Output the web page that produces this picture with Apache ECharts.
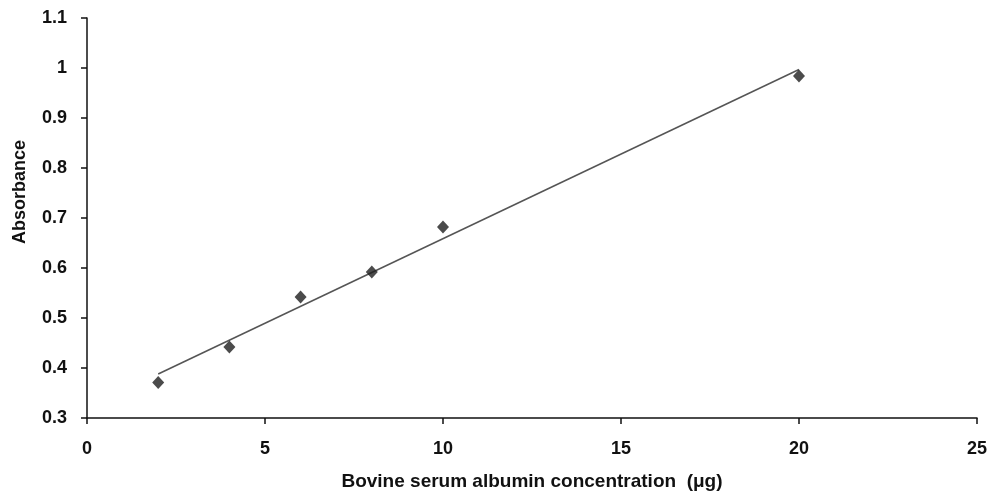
<!DOCTYPE html>
<html>
<head>
<meta charset="utf-8">
<script src="https://cdn.jsdelivr.net/npm/echarts@6/dist/echarts.min.js"></script>
<style>
html,body{margin:0;padding:0;background:#fff;overflow:hidden;}
#c{width:990px;height:496px;}
</style>
</head>
<body>
<div id="c"></div>
<script>
const concentration = [2, 4, 6, 8, 10, 20];
const absorbance = [0.371, 0.442, 0.542, 0.592, 0.682, 0.984];
const trendX = [2, 20];
const trendY = [0.388, 0.997];
const xTitle = 'Bovine serum albumin concentration  (μg)';
const yTitle = 'Absorbance';

const chart = echarts.init(document.getElementById('c'));
const font = 'Liberation Sans, Arial, sans-serif';
chart.setOption({
  animation: false,
  backgroundColor: '#fff',
  grid: {left: 87, width: 890, top: 18, height: 405, containLabel: false},
  xAxis: {
    type: 'value', min: 0, max: 25, interval: 5,
    name: xTitle, nameLocation: 'middle', nameGap: 54,
    nameTextStyle: {fontFamily: font, fontWeight: 'bold', fontSize: 19, color: '#111'},
    axisLine: {show: true, lineStyle: {color: '#111', width: 1.5}},
    axisTick: {show: true, inside: false, length: 6, lineStyle: {color: '#111', width: 1.5}},
    axisLabel: {margin: 22, fontFamily: font, fontWeight: 'bold', fontSize: 18, color: '#111'},
    splitLine: {show: false}
  },
  yAxis: {
    type: 'value', min: 0.3, max: 1.1, interval: 0.1,
    name: yTitle, nameLocation: 'middle', nameGap: 58, nameRotate: 90,
    nameTextStyle: {fontFamily: font, fontWeight: 'bold', fontSize: 18, color: '#111', padding: [0, 0, 0, 52]},
    axisLine: {show: true, lineStyle: {color: '#111', width: 1.5}},
    axisTick: {show: true, inside: false, length: 6, lineStyle: {color: '#111', width: 1.5}},
    axisLabel: {margin: 20, fontFamily: font, fontWeight: 'bold', fontSize: 18, color: '#111',
      formatter: v => String(Math.round(v * 10) / 10)},
    splitLine: {show: false}
  },
  series: [
    {
      type: 'line',
      data: trendX.map((x, i) => [x, trendY[i]]),
      symbol: 'none',
      lineStyle: {color: '#555', width: 1.5},
      z: 1
    },
    {
      type: 'scatter',
      data: concentration.map((x, i) => [x, absorbance[i]]),
      symbol: 'diamond',
      symbolSize: [12, 13],
      itemStyle: {color: '#1e1e1e'},
      z: 2
    }
  ]
});
</script>
</body>
</html>
